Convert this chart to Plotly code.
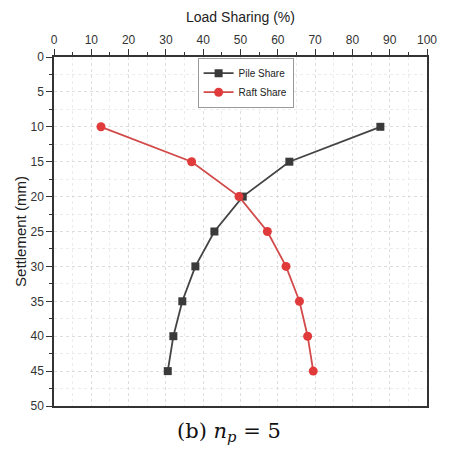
import plotly.graph_objects as go

settlement = [10, 15, 20, 25, 30, 35, 40, 45]
pile_share = [87.5, 63.1, 50.6, 43.0, 37.9, 34.4, 32.0, 30.5]
raft_share = [12.6, 36.9, 49.6, 57.2, 62.2, 65.8, 68.0, 69.5]

fig = go.Figure()
fig.add_trace(go.Scatter(
    x=pile_share, y=settlement, mode="lines+markers", name="Pile Share",
    line=dict(color="#444444", width=1.8),
    marker=dict(symbol="square", size=8, color="#3a3a3a"),
))
fig.add_trace(go.Scatter(
    x=raft_share, y=settlement, mode="lines+markers", name="Raft Share",
    line=dict(color="#d24a4a", width=1.8),
    marker=dict(symbol="circle", size=9, color="#e03a3a"),
))

axis_common = dict(
    showline=True, linecolor="#333333", linewidth=1.5, mirror=True,
    ticks="outside", ticklen=6, tickwidth=1.2, tickcolor="#333333",
    showgrid=True, gridcolor="#dddddd", griddash="dot", gridwidth=1,
    zeroline=False,
    tickfont=dict(family="Liberation Sans, Arial", size=12, color="#333333"),
)

fig.update_layout(
    width=449, height=455,
    margin=dict(l=54, r=15, t=57, b=49),
    paper_bgcolor="white", plot_bgcolor="white",
    xaxis=dict(
        axis_common, side="top", range=[0, 100], tick0=0, dtick=10,
        minor=dict(dtick=5, ticks="outside", ticklen=3, tickcolor="#333333",
                   showgrid=True, gridcolor="#ececec", griddash="dot"),
        title=dict(text="Load Sharing (%)", standoff=8,
                   font=dict(family="Liberation Sans, Arial", size=14, color="#222222")),
    ),
    yaxis=dict(
        axis_common, range=[50, 0], tick0=0, dtick=5,
        minor=dict(dtick=2.5, ticks="outside", ticklen=3, tickcolor="#333333",
                   showgrid=True, gridcolor="#ececec", griddash="dot"),
        title=dict(text="Settlement (mm)", standoff=0,
                   font=dict(family="Liberation Sans, Arial", size=15, color="#222222")),
    ),
    legend=dict(
        x=0.385, y=0.998, xanchor="left", yanchor="top",
        bgcolor="white", bordercolor="#999999", borderwidth=1,
        font=dict(family="Liberation Sans, Arial", size=10, color="#222222"),
        tracegroupgap=0, itemwidth=30,
    ),
    showlegend=True,
)

fig.add_annotation(
    text="(b) <i>n</i><sub><i>p</i></sub> = 5",
    xref="paper", yref="paper", x=0.468, y=-0.075, xanchor="center", yanchor="middle",
    showarrow=False,
    font=dict(family="DejaVu Serif, Liberation Serif", size=21, color="#111111"),
)

fig.write_html("out.html")
